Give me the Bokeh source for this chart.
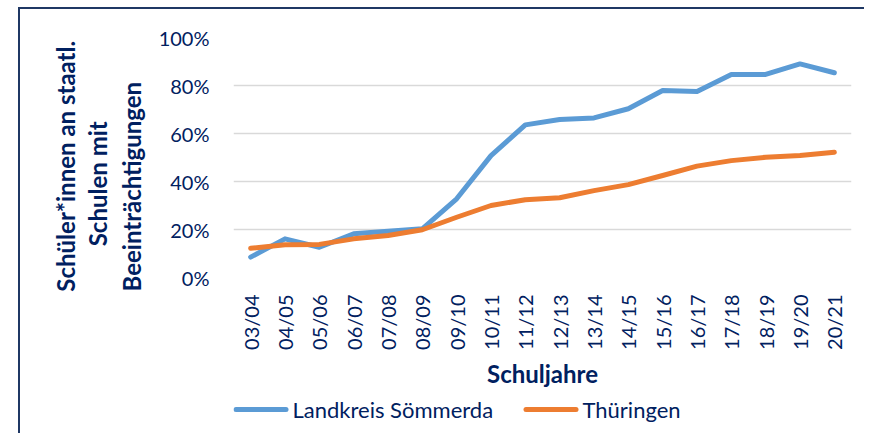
import math
from bokeh.plotting import figure
from bokeh.layouts import column
from bokeh.core.properties import value
from bokeh.models import (FactorRange, Range1d, NumeralTickFormatter, FixedTicker,
                          LinearAxis)
from bokeh.embed import file_html
from bokeh.resources import INLINE

# ---- data ----
schuljahre = ["03/04", "04/05", "05/06", "06/07", "07/08", "08/09", "09/10", "10/11",
              "11/12", "12/13", "13/14", "14/15", "15/16", "16/17", "17/18", "18/19",
              "19/20", "20/21"]
soemmerda = [0.085, 0.161, 0.126, 0.182, 0.193, 0.203, 0.328, 0.508, 0.636, 0.658,
             0.665, 0.703, 0.779, 0.775, 0.846, 0.846, 0.890, 0.853]
thueringen = [0.122, 0.136, 0.138, 0.161, 0.175, 0.199, 0.251, 0.300, 0.324, 0.332,
              0.362, 0.387, 0.425, 0.464, 0.487, 0.501, 0.508, 0.522]
y_ticks = [0, 0.2, 0.4, 0.6, 0.8, 1.0]
series_names = ["Landkreis Sömmerda", "Thüringen"]
y_title_lines = ["Schüler*innen an staatl.", "Schulen mit", "Beeinträchtigungen"]
x_title = "Schuljahre"

NAVY = "#002060"
FONT = "Lato"
BLUE = "#5B9BD5"
ORANGE = "#ED7D31"
GRID = "#D9D9D9"
FRAME = "#1F3864"
NBSP = "\u00a0"

p = figure(width=864, height=396, x_range=FactorRange(*schuljahre, range_padding=0),
           y_range=Range1d(0, 1), output_backend="svg", toolbar_location=None,
           min_border_left=233, min_border_right=13, min_border_top=37,
           min_border_bottom=119)
p.outline_line_color = None
p.background_fill_color = "white"
p.border_fill_color = None

r1 = p.line(schuljahre, soemmerda, line_color=BLUE, line_width=5, line_cap="round",
            line_join="round")
r2 = p.line(schuljahre, thueringen, line_color=ORANGE, line_width=5, line_cap="round",
            line_join="round")

p.xgrid.grid_line_color = None
p.ygrid.grid_line_color = GRID
p.ygrid.grid_line_width = 1.5
p.yaxis.ticker = FixedTicker(ticks=y_ticks)
p.yaxis.formatter = NumeralTickFormatter(format="0%")
for ax in (p.xaxis[0], p.yaxis[0]):
    ax.axis_line_color = None
    ax.major_tick_line_color = None
    ax.minor_tick_line_color = None
    ax.major_tick_out = 0
    ax.major_tick_in = 0
    ax.major_label_text_color = NAVY
    ax.major_label_text_font = FONT
    ax.major_label_text_font_size = "20px"
p.yaxis.major_label_standoff = 24
p.xaxis.major_label_orientation = math.pi / 2
p.xaxis.major_label_standoff = 17
p.xaxis.axis_label = x_title
p.xaxis.axis_label_text_font = FONT
p.xaxis.axis_label_text_font_style = "bold"
p.xaxis.axis_label_text_font_size = "24px"
p.xaxis.axis_label_text_color = NAVY
p.xaxis.axis_label_standoff = 6

# y-axis title: one label-only axis per line, innermost first
# (trailing no-break spaces move each centred line slightly downwards)
title_standoffs = [10, 2, 0]      # lines 3, 2, 1
title_pad = [10, 9, 3]
for txt, so, pad in zip(reversed(y_title_lines), title_standoffs, title_pad):
    ax = LinearAxis(ticker=FixedTicker(ticks=[]), axis_label=txt + NBSP * pad,
                    axis_line_color=None, major_tick_line_color=None,
                    minor_tick_line_color=None, major_tick_out=0, major_tick_in=0,
                    minor_tick_out=0, major_label_standoff=0,
                    axis_label_standoff=so, axis_label_text_font=FONT,
                    axis_label_text_font_style="bold",
                    axis_label_text_font_size="24px", axis_label_text_color=NAVY)
    p.add_layout(ax, "left")

# legend strip below the chart; its frame is aligned with the chart frame,
# so the x range is given in page pixels (233 .. 851)
leg = figure(width=864, height=37, x_range=Range1d(233, 851), y_range=Range1d(0, 37),
             output_backend="svg", toolbar_location=None, min_border=0,
             x_axis_location=None, y_axis_location=None)
leg.grid.visible = False
leg.outline_line_color = None
leg.background_fill_color = None
leg.border_fill_color = None
swatch_x0 = [235.5, 525.5]
swatch_x1 = [285.5, 575.5]
label_x = [292, 582]
row_y = [24, 24]
leg.segment(x0=swatch_x0, y0=row_y, x1=swatch_x1, y1=row_y,
            line_color=[BLUE, ORANGE], line_width=5, line_cap="round")
leg.text(x=label_x, y=row_y, text=series_names, text_font=value(FONT),
         text_font_size="22px", text_color=NAVY, text_baseline="middle",
         text_align="left")

layout = column(p, leg, spacing=0)
layout.styles = {
    "background": (f"linear-gradient({FRAME}, {FRAME}) 18px 7px / 2px 2000px no-repeat, "
                   f"linear-gradient({FRAME}, {FRAME}) 18px 7px / 2000px 2px no-repeat, "
                   "#ffffff"),
}

open("out.html", "w").write(file_html(layout, INLINE))
